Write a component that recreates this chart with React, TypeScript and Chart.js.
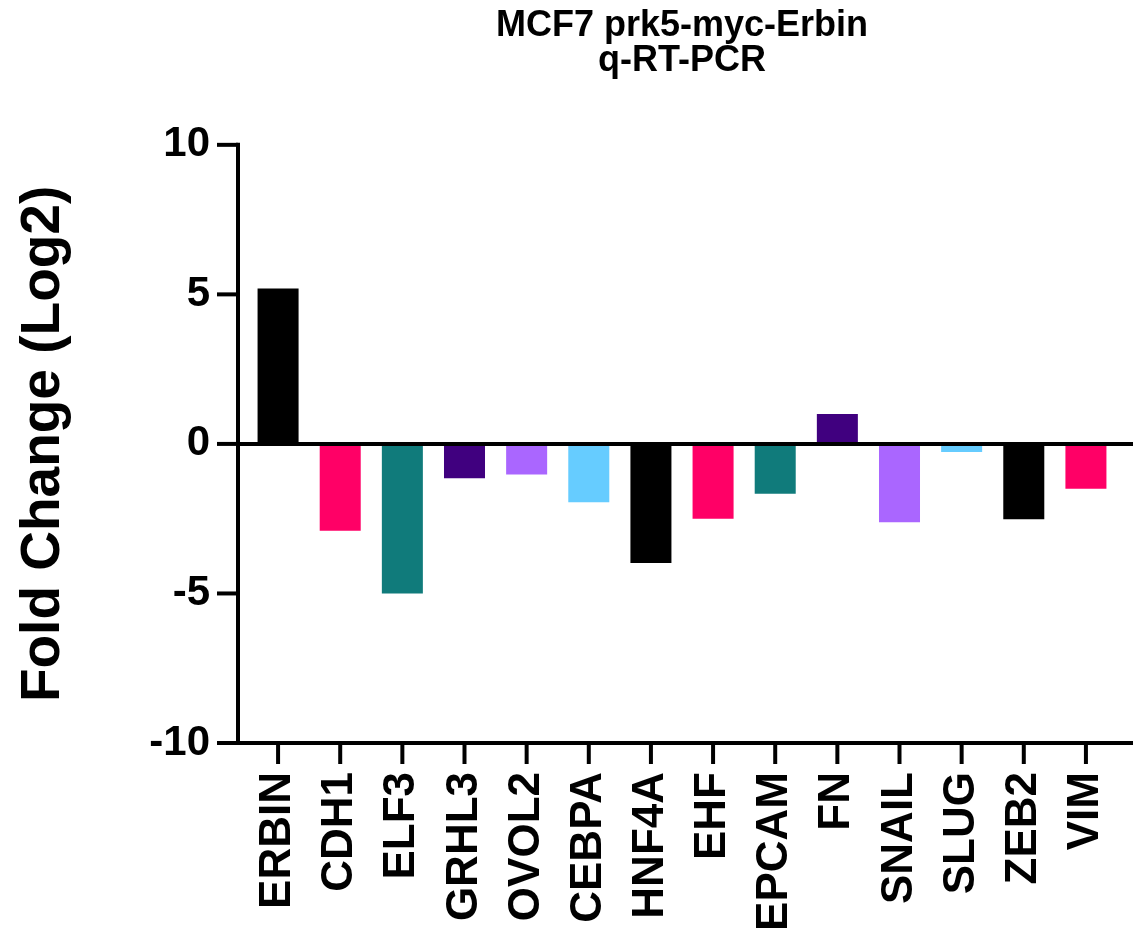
import React, { useEffect, useRef } from "react";
import { Chart, registerables } from "chart.js";

Chart.register(...registerables);

// Genes measured by q-RT-PCR
const GENES = [
  "ERBIN", "CDH1", "ELF3", "GRHL3", "OVOL2", "CEBPA", "HNF4A",
  "EHF", "EPCAM", "FN", "SNAIL", "SLUG", "ZEB2", "VIM",
];

// Log2 fold change per gene
const FOLD_CHANGE = [
  5.2, -2.9, -5.0, -1.15, -1.02, -1.95, -3.98,
  -2.5, -1.67, 1.0, -2.62, -0.27, -2.52, -1.5,
];

// Repeating Prism-style palette
const PALETTE = ["#000000", "#FF0066", "#107B7B", "#40007F", "#AA66FF", "#66CCFF"];
const BAR_COLORS = GENES.map((_, i) => PALETTE[i % PALETTE.length]);

const Y_MIN = -10;
const Y_MAX = 10;
const Y_STEP = 5;
const Y_TICKS = [-10, -5, 0, 5, 10];

const TITLE_LINES = ["MCF7 prk5-myc-Erbin", "q-RT-PCR"];
const Y_TITLE = "Fold Change (Log2)";

const FONT = "'Liberation Sans', Arial, Helvetica, sans-serif";

// Axis geometry (pixels)
const AXIS_WIDTH = 4;
const TICK_LEN = 21;
const AXIS_GAP_LEFT = 9;
const AXIS_EXT_RIGHT = 16;

// Draws Prism-like axes: offset y axis, zero line, bottom axis and tick marks
const prismAxes = {
  id: "prismAxes",
  afterDatasetsDraw(chart: any) {
    const { ctx, chartArea, scales } = chart;
    const x = scales.x;
    const y = scales.y;
    const axisX = chartArea.left - AXIS_GAP_LEFT;
    const axisEnd = chartArea.right + AXIS_EXT_RIGHT;
    const yTop = y.getPixelForValue(Y_MAX);
    const yBottom = y.getPixelForValue(Y_MIN);
    const yZero = y.getPixelForValue(0);

    ctx.save();
    ctx.strokeStyle = "#000";
    ctx.lineWidth = AXIS_WIDTH;
    ctx.lineCap = "butt";

    // vertical axis
    ctx.beginPath();
    ctx.moveTo(axisX, yTop - AXIS_WIDTH / 2);
    ctx.lineTo(axisX, yBottom + AXIS_WIDTH / 2);
    ctx.stroke();

    // y tick marks
    Y_TICKS.forEach((v) => {
      const py = y.getPixelForValue(v);
      ctx.beginPath();
      ctx.moveTo(axisX - TICK_LEN, py);
      ctx.lineTo(axisX, py);
      ctx.stroke();
    });

    // zero baseline
    ctx.beginPath();
    ctx.moveTo(axisX, yZero);
    ctx.lineTo(axisEnd, yZero);
    ctx.stroke();

    // bottom axis
    ctx.beginPath();
    ctx.moveTo(axisX - AXIS_WIDTH / 2, yBottom);
    ctx.lineTo(axisEnd, yBottom);
    ctx.stroke();

    // x tick marks
    GENES.forEach((_, i) => {
      const px = x.getPixelForValue(i);
      ctx.beginPath();
      ctx.moveTo(px, yBottom);
      ctx.lineTo(px, yBottom + TICK_LEN);
      ctx.stroke();
    });

    ctx.restore();
  },
};

export default function App() {
  const canvasRef = useRef<HTMLCanvasElement | null>(null);

  useEffect(() => {
    const canvas = canvasRef.current;
    if (!canvas) return;
    const chart = new Chart(canvas, {
      type: "bar",
      data: {
        labels: GENES,
        datasets: [
          {
            data: FOLD_CHANGE,
            backgroundColor: BAR_COLORS,
            borderWidth: 0,
            barPercentage: 0.66,
            categoryPercentage: 1,
          },
        ],
      },
      options: {
        responsive: false,
        animation: false,
        devicePixelRatio: 1,
        layout: { padding: { left: 0, right: 20, top: 0, bottom: 0 } },
        plugins: {
          legend: { display: false },
          tooltip: { enabled: false },
          title: {
            display: true,
            text: TITLE_LINES,
            fullSize: false,
            color: "#000",
            font: { family: FONT, size: 36, weight: "bold", lineHeight: 0.97 },
            padding: { top: 8.5, bottom: 66.5 },
          },
        },
        scales: {
          x: {
            type: "category",
            offset: true,
            grid: { display: false, drawTicks: false },
            border: { display: false },
            ticks: {
              autoSkip: false,
              minRotation: 90,
              maxRotation: 90,
              padding: 29,
              color: "#000",
              font: { family: FONT, size: 44, weight: "bold" },
            },
            afterFit(scale: any) {
              scale.height = 201;
              scale.paddingLeft = 0;
              scale.paddingRight = 0;
            },
          },
          y: {
            min: Y_MIN,
            max: Y_MAX,
            grid: { display: false, drawTicks: false },
            border: { display: false },
            ticks: {
              stepSize: Y_STEP,
              padding: 37,
              color: "#000",
              font: { family: FONT, size: 42, weight: "bold" },
              callback: (v: any) => String(v),
            },
            title: {
              display: true,
              text: Y_TITLE,
              color: "#000",
              font: { family: FONT, size: 55, weight: "bold" },
              padding: { top: 11, bottom: 0 },
            },
            afterFit(scale: any) {
              scale.width = 247;
            },
          },
        },
      },
      plugins: [prismAxes],
    });
    return () => chart.destroy();
  }, []);

  return (
    <canvas
      ref={canvasRef}
      width={1137}
      height={944}
      style={{ position: "absolute", left: 0, top: 0, width: 1137, height: 944 }}
    />
  );
}
